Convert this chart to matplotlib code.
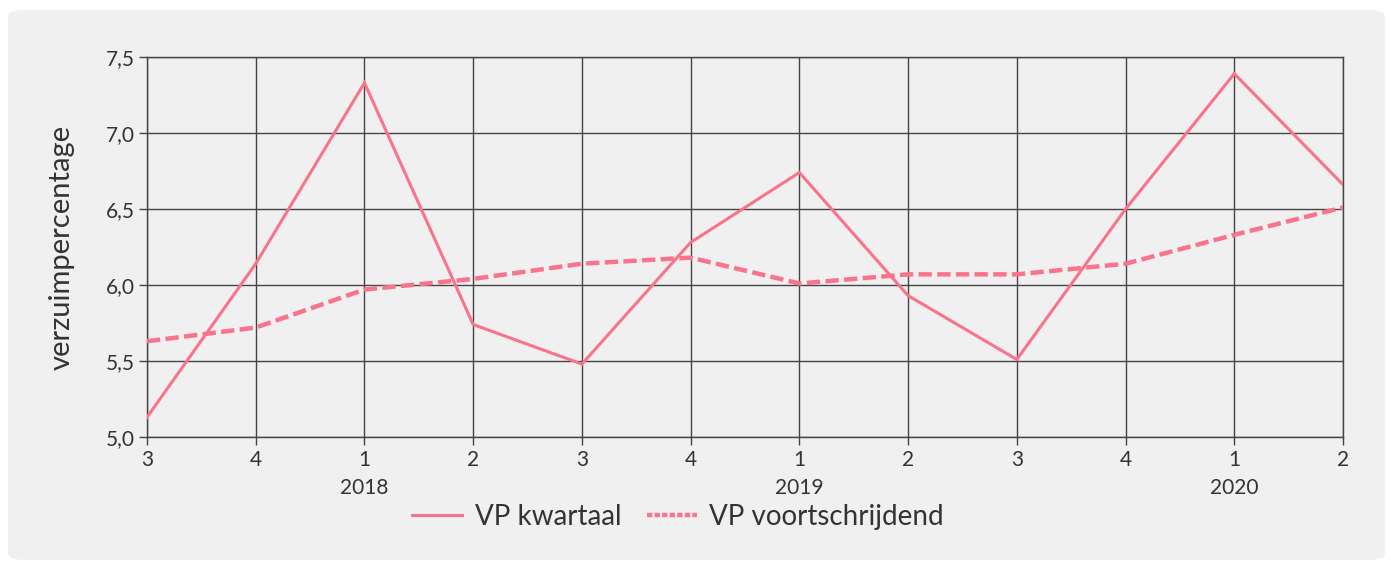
import matplotlib.pyplot as plt
from matplotlib.patches import FancyBboxPatch
from matplotlib.lines import Line2D

quarters = ["3", "4", "1", "2", "3", "4", "1", "2", "3", "4", "1", "2"]
years = {2: "2018", 6: "2019", 10: "2020"}
vp_kwartaal = [5.13, 6.14, 7.33, 5.74, 5.48, 6.28, 6.74, 5.93, 5.51, 6.50, 7.39, 6.66]
vp_voortschrijdend = [5.63, 5.72, 5.97, 6.04, 6.14, 6.18, 6.01, 6.07, 6.07, 6.14, 6.33, 6.51]

pink = "#f9738a"
grid_col = "#444444"
plt.rcParams["font.family"] = ["Lato", "DejaVu Sans"]

fig = plt.figure(figsize=(13.9, 5.63), dpi=100)
fig.patch.set_facecolor("white")
panel = FancyBboxPatch((8 / 1390, 3 / 563), 1377 / 1390, 550 / 563,
                       boxstyle="round,pad=0,rounding_size=0.012",
                       transform=fig.transFigure, facecolor="#f0f0f0",
                       edgecolor="none", zorder=-10)
fig.patches.append(panel)

ax = fig.add_axes([147 / 1390, 1 - 437 / 563, 1196 / 1390, 380 / 563])
ax.set_facecolor("#f0f0f0")
x = list(range(len(quarters)))
ax.plot(x, vp_kwartaal, color=pink, linewidth=2.2, solid_joinstyle="miter", zorder=3)
ax.plot(x, vp_voortschrijdend, color=pink, linewidth=3.2, linestyle=(0, (3, 1.2)), zorder=3)

ax.set_xlim(0, len(quarters) - 1)
ax.set_ylim(5.0, 7.5)
ax.set_xticks(x)
ax.set_xticklabels(quarters)
yt = [5.0, 5.5, 6.0, 6.5, 7.0, 7.5]
ax.set_yticks(yt)
ax.set_yticklabels([f"{v:.1f}".replace(".", ",") for v in yt])
ax.grid(True, color=grid_col, linewidth=1.0, zorder=1)
for s in ax.spines.values():
    s.set_color(grid_col)
    s.set_linewidth(1.0)
ax.tick_params(axis="both", colors=grid_col, labelcolor="#333333", labelsize=15, length=6, width=1.0)
ax.tick_params(axis="x", pad=3)
ax.tick_params(axis="y", pad=3)
ax.set_ylabel("verzuimpercentage", fontsize=21, color="#333333", labelpad=22)

for i, yr in years.items():
    ax.text(i, -0.135, yr, transform=ax.get_xaxis_transform(), ha="center", va="center",
            fontsize=15, color="#333333")

handles = [Line2D([], [], color=pink, linewidth=2.2),
           Line2D([], [], color=pink, linewidth=3.2, linestyle=(0, (1.2, 0.5)))]
fig.legend(handles, ["VP kwartaal", "VP voortschrijdend"], loc="center",
           bbox_to_anchor=(678 / 1390, 1 - 517 / 563), ncol=2, frameon=False,
           fontsize=20, handlelength=1.8, columnspacing=0.9, handletextpad=0.45,
           labelcolor="#333333")

fig.savefig("out.png", dpi=100, facecolor="white")
